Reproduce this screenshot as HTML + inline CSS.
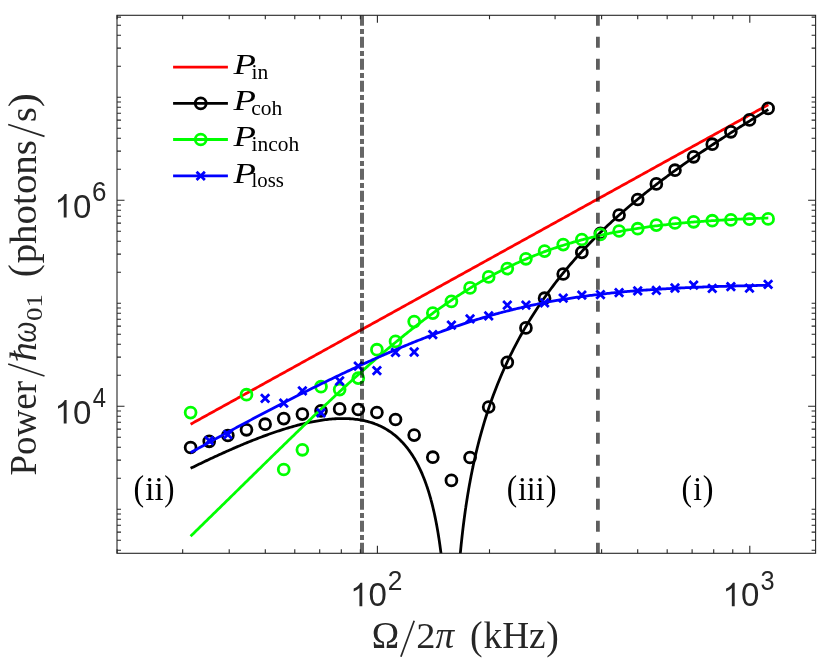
<!DOCTYPE html>
<html><head><meta charset="utf-8"><title>Power vs drive</title>
<style>html,body{margin:0;padding:0;background:#fff;}svg{display:block;will-change:transform;}.s{font-family:"Liberation Sans",sans-serif;fill:#262626;}.r{font-family:"Liberation Serif",serif;fill:#262626;}.k{font-family:"Liberation Serif",serif;fill:#000;}</style></head><body>
<svg width="830" height="660" viewBox="0 0 830 660">
<rect x="0" y="0" width="830" height="660" fill="#fff"/>
<defs><clipPath id="c"><rect x="117.0" y="15.3" width="698.6" height="538.0"/></clipPath></defs>
<g clip-path="url(#c)" fill="none" stroke-linejoin="round">
<path d="M190.60,424.24 L192.05,423.44 L193.50,422.64 L194.94,421.84 L196.39,421.03 L197.84,420.23 L199.29,419.43 L200.74,418.63 L202.18,417.83 L203.63,417.03 L205.08,416.23 L206.53,415.43 L207.97,414.63 L209.42,413.83 L210.87,413.02 L212.32,412.22 L213.77,411.42 L215.21,410.62 L216.66,409.82 L218.11,409.02 L219.56,408.22 L221.01,407.42 L222.45,406.62 L223.90,405.82 L225.35,405.02 L226.80,404.21 L228.24,403.41 L229.69,402.61 L231.14,401.81 L232.59,401.01 L234.04,400.21 L235.48,399.41 L236.93,398.61 L238.38,397.81 L239.83,397.01 L241.28,396.21 L242.72,395.40 L244.17,394.60 L245.62,393.80 L247.07,393.00 L248.51,392.20 L249.96,391.40 L251.41,390.60 L252.86,389.80 L254.31,389.00 L255.75,388.20 L257.20,387.40 L258.65,386.59 L260.10,385.79 L261.55,384.99 L262.99,384.19 L264.44,383.39 L265.89,382.59 L267.34,381.79 L268.78,380.99 L270.23,380.19 L271.68,379.39 L273.13,378.59 L274.58,377.78 L276.02,376.98 L277.47,376.18 L278.92,375.38 L280.37,374.58 L281.82,373.78 L283.26,372.98 L284.71,372.18 L286.16,371.38 L287.61,370.58 L289.06,369.78 L290.50,368.97 L291.95,368.17 L293.40,367.37 L294.85,366.57 L296.29,365.77 L297.74,364.97 L299.19,364.17 L300.64,363.37 L302.09,362.57 L303.53,361.77 L304.98,360.97 L306.43,360.16 L307.88,359.36 L309.33,358.56 L310.77,357.76 L312.22,356.96 L313.67,356.16 L315.12,355.36 L316.56,354.56 L318.01,353.76 L319.46,352.96 L320.91,352.16 L322.36,351.35 L323.80,350.55 L325.25,349.75 L326.70,348.95 L328.15,348.15 L329.60,347.35 L331.04,346.55 L332.49,345.75 L333.94,344.95 L335.39,344.15 L336.83,343.35 L338.28,342.54 L339.73,341.74 L341.18,340.94 L342.63,340.14 L344.07,339.34 L345.52,338.54 L346.97,337.74 L348.42,336.94 L349.87,336.14 L351.31,335.34 L352.76,334.54 L354.21,333.73 L355.66,332.93 L357.11,332.13 L358.55,331.33 L360.00,330.53 L361.45,329.73 L362.90,328.93 L364.34,328.13 L365.79,327.33 L367.24,326.53 L368.69,325.73 L370.14,324.92 L371.58,324.12 L373.03,323.32 L374.48,322.52 L375.93,321.72 L377.38,320.92 L378.82,320.12 L380.27,319.32 L381.72,318.52 L383.17,317.72 L384.61,316.92 L386.06,316.11 L387.51,315.31 L388.96,314.51 L390.41,313.71 L391.85,312.91 L393.30,312.11 L394.75,311.31 L396.20,310.51 L397.65,309.71 L399.09,308.91 L400.54,308.10 L401.99,307.30 L403.44,306.50 L404.88,305.70 L406.33,304.90 L407.78,304.10 L409.23,303.30 L410.68,302.50 L412.12,301.70 L413.57,300.90 L415.02,300.10 L416.47,299.29 L417.92,298.49 L419.36,297.69 L420.81,296.89 L422.26,296.09 L423.71,295.29 L425.15,294.49 L426.60,293.69 L428.05,292.89 L429.50,292.09 L430.95,291.29 L432.39,290.48 L433.84,289.68 L435.29,288.88 L436.74,288.08 L438.19,287.28 L439.63,286.48 L441.08,285.68 L442.53,284.88 L443.98,284.08 L445.43,283.28 L446.87,282.48 L448.32,281.67 L449.77,280.87 L451.22,280.07 L452.66,279.27 L454.11,278.47 L455.56,277.67 L457.01,276.87 L458.46,276.07 L459.90,275.27 L461.35,274.47 L462.80,273.67 L464.25,272.86 L465.70,272.06 L467.14,271.26 L468.59,270.46 L470.04,269.66 L471.49,268.86 L472.93,268.06 L474.38,267.26 L475.83,266.46 L477.28,265.66 L478.73,264.86 L480.17,264.05 L481.62,263.25 L483.07,262.45 L484.52,261.65 L485.97,260.85 L487.41,260.05 L488.86,259.25 L490.31,258.45 L491.76,257.65 L493.20,256.85 L494.65,256.05 L496.10,255.24 L497.55,254.44 L499.00,253.64 L500.44,252.84 L501.89,252.04 L503.34,251.24 L504.79,250.44 L506.24,249.64 L507.68,248.84 L509.13,248.04 L510.58,247.24 L512.03,246.43 L513.47,245.63 L514.92,244.83 L516.37,244.03 L517.82,243.23 L519.27,242.43 L520.71,241.63 L522.16,240.83 L523.61,240.03 L525.06,239.23 L526.51,238.43 L527.95,237.62 L529.40,236.82 L530.85,236.02 L532.30,235.22 L533.75,234.42 L535.19,233.62 L536.64,232.82 L538.09,232.02 L539.54,231.22 L540.98,230.42 L542.43,229.62 L543.88,228.81 L545.33,228.01 L546.78,227.21 L548.22,226.41 L549.67,225.61 L551.12,224.81 L552.57,224.01 L554.02,223.21 L555.46,222.41 L556.91,221.61 L558.36,220.81 L559.81,220.00 L561.25,219.20 L562.70,218.40 L564.15,217.60 L565.60,216.80 L567.05,216.00 L568.49,215.20 L569.94,214.40 L571.39,213.60 L572.84,212.80 L574.29,211.99 L575.73,211.19 L577.18,210.39 L578.63,209.59 L580.08,208.79 L581.52,207.99 L582.97,207.19 L584.42,206.39 L585.87,205.59 L587.32,204.79 L588.76,203.99 L590.21,203.18 L591.66,202.38 L593.11,201.58 L594.56,200.78 L596.00,199.98 L597.45,199.18 L598.90,198.38 L600.35,197.58 L601.79,196.78 L603.24,195.98 L604.69,195.18 L606.14,194.37 L607.59,193.57 L609.03,192.77 L610.48,191.97 L611.93,191.17 L613.38,190.37 L614.83,189.57 L616.27,188.77 L617.72,187.97 L619.17,187.17 L620.62,186.37 L622.07,185.56 L623.51,184.76 L624.96,183.96 L626.41,183.16 L627.86,182.36 L629.30,181.56 L630.75,180.76 L632.20,179.96 L633.65,179.16 L635.10,178.36 L636.54,177.56 L637.99,176.75 L639.44,175.95 L640.89,175.15 L642.34,174.35 L643.78,173.55 L645.23,172.75 L646.68,171.95 L648.13,171.15 L649.57,170.35 L651.02,169.55 L652.47,168.75 L653.92,167.94 L655.37,167.14 L656.81,166.34 L658.26,165.54 L659.71,164.74 L661.16,163.94 L662.61,163.14 L664.05,162.34 L665.50,161.54 L666.95,160.74 L668.40,159.94 L669.84,159.13 L671.29,158.33 L672.74,157.53 L674.19,156.73 L675.64,155.93 L677.08,155.13 L678.53,154.33 L679.98,153.53 L681.43,152.73 L682.88,151.93 L684.32,151.13 L685.77,150.32 L687.22,149.52 L688.67,148.72 L690.12,147.92 L691.56,147.12 L693.01,146.32 L694.46,145.52 L695.91,144.72 L697.35,143.92 L698.80,143.12 L700.25,142.32 L701.70,141.51 L703.15,140.71 L704.59,139.91 L706.04,139.11 L707.49,138.31 L708.94,137.51 L710.39,136.71 L711.83,135.91 L713.28,135.11 L714.73,134.31 L716.18,133.51 L717.62,132.70 L719.07,131.90 L720.52,131.10 L721.97,130.30 L723.42,129.50 L724.86,128.70 L726.31,127.90 L727.76,127.10 L729.21,126.30 L730.66,125.50 L732.10,124.70 L733.55,123.89 L735.00,123.09 L736.45,122.29 L737.89,121.49 L739.34,120.69 L740.79,119.89 L742.24,119.09 L743.69,118.29 L745.13,117.49 L746.58,116.69 L748.03,115.89 L749.48,115.08 L750.93,114.28 L752.37,113.48 L753.82,112.68 L755.27,111.88 L756.72,111.08 L758.16,110.28 L759.61,109.48 L761.06,108.68 L762.51,107.88 L763.96,107.07 L765.40,106.27 L766.85,105.47 L768.30,104.67" stroke="#f00" stroke-width="2.78"/>
<g stroke="#000" stroke-width="2.78">
<circle cx="190.60" cy="447.5" r="5.45"/>
<circle cx="209.23" cy="441.3" r="5.45"/>
<circle cx="227.86" cy="435.5" r="5.45"/>
<circle cx="246.49" cy="429.8" r="5.45"/>
<circle cx="265.12" cy="424.2" r="5.45"/>
<circle cx="283.75" cy="418.6" r="5.45"/>
<circle cx="302.38" cy="414.1" r="5.45"/>
<circle cx="321.01" cy="410.8" r="5.45"/>
<circle cx="339.64" cy="408.9" r="5.45"/>
<circle cx="358.27" cy="409.5" r="5.45"/>
<circle cx="376.90" cy="412.5" r="5.45"/>
<circle cx="395.53" cy="419.5" r="5.45"/>
<circle cx="414.16" cy="435.1" r="5.45"/>
<circle cx="432.79" cy="457.2" r="5.45"/>
<circle cx="451.42" cy="480.4" r="5.45"/>
<circle cx="470.05" cy="457.5" r="5.45"/>
<circle cx="488.68" cy="407" r="5.45"/>
<circle cx="507.31" cy="362.3" r="5.45"/>
<circle cx="525.94" cy="327.9" r="5.45"/>
<circle cx="544.57" cy="298.2" r="5.45"/>
<circle cx="563.20" cy="274" r="5.45"/>
<circle cx="581.83" cy="252.4" r="5.45"/>
<circle cx="600.46" cy="233.3" r="5.45"/>
<circle cx="619.09" cy="215" r="5.45"/>
<circle cx="637.72" cy="199.5" r="5.45"/>
<circle cx="656.35" cy="183.9" r="5.45"/>
<circle cx="674.98" cy="170.2" r="5.45"/>
<circle cx="693.61" cy="156.8" r="5.45"/>
<circle cx="712.24" cy="144.2" r="5.45"/>
<circle cx="730.87" cy="131.8" r="5.45"/>
<circle cx="749.50" cy="119.9" r="5.45"/>
<circle cx="768.13" cy="108.4" r="5.45"/>
<path d="M190.60,468.32 L192.05,467.61 L193.50,466.90 L194.94,466.20 L196.39,465.49 L197.84,464.79 L199.29,464.09 L200.74,463.40 L202.18,462.70 L203.63,462.01 L205.08,461.32 L206.53,460.63 L207.97,459.95 L209.42,459.27 L210.87,458.59 L212.32,457.92 L213.77,457.24 L215.21,456.57 L216.66,455.90 L218.11,455.24 L219.56,454.58 L221.01,453.92 L222.45,453.27 L223.90,452.61 L225.35,451.96 L226.80,451.32 L228.24,450.68 L229.69,450.04 L231.14,449.40 L232.59,448.77 L234.04,448.14 L235.48,447.51 L236.93,446.89 L238.38,446.27 L239.83,445.66 L241.28,445.05 L242.72,444.44 L244.17,443.84 L245.62,443.24 L247.07,442.65 L248.51,442.06 L249.96,441.47 L251.41,440.89 L252.86,440.32 L254.31,439.75 L255.75,439.18 L257.20,438.61 L258.65,438.06 L260.10,437.50 L261.55,436.96 L262.99,436.41 L264.44,435.88 L265.89,435.34 L267.34,434.82 L268.78,434.29 L270.23,433.78 L271.68,433.27 L273.13,432.76 L274.58,432.27 L276.02,431.77 L277.47,431.29 L278.92,430.81 L280.37,430.33 L281.82,429.87 L283.26,429.41 L284.71,428.95 L286.16,428.51 L287.61,428.07 L289.06,427.63 L290.50,427.21 L291.95,426.79 L293.40,426.38 L294.85,425.98 L296.29,425.59 L297.74,425.20 L299.19,424.83 L300.64,424.46 L302.09,424.10 L303.53,423.75 L304.98,423.41 L306.43,423.07 L307.88,422.75 L309.33,422.44 L310.77,422.14 L312.22,421.84 L313.67,421.56 L315.12,421.29 L316.56,421.03 L318.01,420.78 L319.46,420.54 L320.91,420.32 L322.36,420.10 L323.80,419.90 L325.25,419.71 L326.70,419.53 L328.15,419.37 L329.60,419.22 L331.04,419.08 L332.49,418.96 L333.94,418.85 L335.39,418.76 L336.83,418.68 L338.28,418.62 L339.73,418.57 L341.18,418.54 L342.63,418.53 L344.07,418.54 L345.52,418.56 L346.97,418.60 L348.42,418.66 L349.87,418.74 L351.31,418.84 L352.76,418.96 L354.21,419.10 L355.66,419.26 L357.11,419.44 L358.55,419.65 L360.00,419.88 L361.45,420.14 L362.90,420.42 L364.34,420.73 L365.79,421.06 L367.24,421.42 L368.69,421.81 L370.14,422.23 L371.58,422.68 L373.03,423.17 L374.48,423.68 L375.93,424.23 L377.38,424.82 L378.82,425.44 L380.27,426.10 L381.72,426.80 L383.17,427.54 L384.61,428.33 L386.06,429.16 L387.51,430.03 L388.96,430.96 L390.41,431.93 L391.85,432.96 L393.30,434.05 L394.75,435.19 L396.20,436.40 L397.65,437.67 L399.09,439.01 L400.54,440.42 L401.99,441.91 L403.44,443.47 L404.88,445.13 L406.33,446.87 L407.78,448.71 L409.23,450.65 L410.68,452.70 L412.12,454.86 L413.57,457.15 L415.02,459.58 L416.47,462.16 L417.92,464.89 L419.36,467.79 L420.81,470.88 L422.26,474.17 L423.71,477.69 L425.00,481.05 L425.15,481.46 L425.22,481.64 L425.44,482.24 L425.66,482.85 L425.88,483.46 L426.10,484.09 L426.33,484.71 L426.55,485.35 L426.60,485.51 L426.77,485.99 L426.99,486.64 L427.21,487.30 L427.43,487.96 L427.65,488.63 L427.87,489.31 L428.05,489.87 L428.09,490.00 L428.31,490.70 L428.53,491.40 L428.76,492.11 L428.98,492.84 L429.20,493.57 L429.42,494.31 L429.50,494.58 L429.64,495.05 L429.86,495.81 L430.08,496.58 L430.30,497.36 L430.52,498.14 L430.74,498.94 L430.95,499.68 L430.96,499.75 L431.18,500.57 L431.41,501.40 L431.63,502.24 L431.85,503.09 L432.07,503.95 L432.29,504.83 L432.39,505.25 L432.51,505.71 L432.73,506.61 L432.95,507.52 L433.17,508.45 L433.39,509.39 L433.61,510.34 L433.84,511.30 L433.84,511.33 L434.06,512.29 L434.28,513.28 L434.50,514.29 L434.72,515.32 L434.94,516.36 L435.16,517.41 L435.29,518.04 L435.38,518.49 L435.60,519.58 L435.82,520.69 L436.04,521.82 L436.27,522.96 L436.49,524.13 L436.71,525.31 L436.74,525.48 L436.93,526.52 L437.15,527.75 L437.37,528.99 L437.59,530.26 L437.81,531.56 L438.03,532.88 L438.19,533.81 L438.25,534.22 L438.47,535.59 L438.69,536.98 L438.92,538.40 L439.14,539.85 L439.36,541.33 L439.58,542.84 L439.63,543.23 L439.80,544.38 L440.02,545.96 L440.24,547.57 L440.46,549.21 L440.68,550.89 L440.90,552.61 L441.08,554.02 L441.12,554.37 L441.35,556.17 L441.57,558.01 L441.79,559.90 L442.01,561.84 L442.23,563.83 L442.45,565.87 L442.53,566.62 L442.67,567.97 L442.89,570.12 L443.11,572.34 L443.33,574.61 L443.55,576.96 L443.78,579.38 L443.98,581.66 L444.00,581.88 L444.22,584.45 L444.44,587.11 L444.66,589.87 L444.88,592.72 L445.10,595.67 L445.32,598.74 L445.43,600.22 L445.54,601.92 L445.76,605.24 L445.98,608.69 L446.20,612.30 L446.43,613.30 L446.65,613.30 L446.87,613.30 L446.87,613.30 L447.09,613.30 L447.31,613.30 L447.53,613.30 L447.75,613.30 L447.97,613.30 L448.19,613.30 L448.32,613.30 L448.41,613.30 L448.63,613.30 L448.86,613.30 L449.08,613.30 L449.30,613.30 L449.52,613.30 L449.74,613.30 L449.77,613.30 L449.96,613.30 L450.18,613.30 L450.40,613.30 L450.62,613.30 L450.84,613.30 L451.06,613.30 L451.22,613.30 L451.29,613.30 L451.51,613.30 L451.73,613.30 L451.95,613.30 L452.17,613.30 L452.39,613.30 L452.61,613.30 L452.66,613.30 L452.83,613.30 L453.05,613.30 L453.27,613.30 L453.49,613.30 L453.71,613.30 L453.94,613.30 L454.11,613.30 L454.16,613.30 L454.38,613.30 L454.60,613.30 L454.82,613.30 L455.04,613.30 L455.26,613.30 L455.48,613.30 L455.56,613.30 L455.70,613.30 L455.92,613.30 L456.14,612.23 L456.37,608.05 L456.59,604.04 L456.81,600.20 L457.01,596.83 L457.03,596.50 L457.25,592.94 L457.47,589.50 L457.69,586.18 L457.91,582.97 L458.13,579.86 L458.35,576.85 L458.46,575.48 L458.57,573.93 L458.80,571.09 L459.02,568.33 L459.24,565.64 L459.46,563.02 L459.68,560.47 L459.90,557.99 L459.90,557.94 L460.12,555.56 L460.34,553.19 L460.56,550.88 L460.78,548.61 L461.00,546.40 L461.22,544.23 L461.35,543.01 L461.45,542.11 L461.67,540.03 L461.89,537.99 L462.11,535.99 L462.33,534.03 L462.55,532.11 L462.77,530.22 L462.80,529.98 L462.99,528.36 L463.21,526.54 L463.43,524.75 L463.65,522.98 L463.88,521.25 L464.10,519.54 L464.25,518.39 L464.32,517.87 L464.54,516.21 L464.76,514.59 L464.98,512.98 L465.20,511.40 L465.42,509.85 L465.64,508.31 L465.70,507.95 L465.86,506.80 L466.08,505.31 L466.31,503.84 L466.53,502.39 L466.75,500.95 L466.97,499.54 L467.14,498.43 L467.19,498.14 L467.41,496.76 L467.63,495.40 L467.85,494.06 L468.07,492.73 L468.29,491.42 L468.51,490.12 L468.59,489.67 L468.73,488.84 L468.96,487.57 L469.18,486.31 L469.40,485.07 L469.62,483.85 L469.84,482.63 L470.04,481.55 L470.06,481.43 L470.28,480.24 L470.50,479.07 L470.72,477.91 L470.94,476.75 L471.16,475.61 L471.39,474.48 L471.49,473.97 L471.61,473.37 L471.83,472.26 L472.05,471.16 L472.27,470.07 L472.49,469.00 L472.71,467.93 L472.93,466.87 L472.93,466.86 L473.15,465.83 L473.37,464.79 L473.59,463.76 L473.82,462.74 L474.04,461.73 L474.26,460.73 L474.38,460.16 L474.48,459.73 L474.70,458.74 L474.92,457.77 L475.14,456.80 L475.36,455.83 L475.58,454.88 L475.80,453.93 L475.83,453.82 L476.02,452.99 L476.24,452.06 L476.47,451.14 L476.69,450.22 L476.91,449.31 L477.13,448.40 L477.28,447.79 L477.35,447.51 L477.57,446.61 L477.79,445.73 L478.01,444.85 L478.23,443.98 L478.45,443.11 L478.67,442.25 L478.73,442.06 L478.90,441.40 L479.12,440.55 L479.34,439.71 L479.56,438.87 L479.78,438.04 L480.00,437.22 L480.17,436.57 L481.62,431.32 L483.07,426.28 L484.52,421.43 L485.97,416.75 L487.41,412.24 L488.86,407.87 L490.31,403.64 L491.76,399.55 L493.20,395.57 L494.65,391.70 L496.10,387.94 L497.55,384.28 L499.00,380.71 L500.44,377.22 L501.89,373.82 L503.34,370.50 L504.79,367.25 L506.24,364.08 L507.68,360.96 L509.13,357.92 L510.58,354.93 L512.03,352.01 L513.47,349.13 L514.92,346.31 L516.37,343.55 L517.82,340.83 L519.27,338.16 L520.71,335.53 L522.16,332.95 L523.61,330.41 L525.06,327.91 L526.51,325.44 L527.95,323.02 L529.40,320.63 L530.85,318.28 L532.30,315.96 L533.75,313.68 L535.19,311.42 L536.64,309.20 L538.09,307.01 L539.54,304.84 L540.98,302.71 L542.43,300.60 L543.88,298.52 L545.33,296.47 L546.78,294.44 L548.22,292.43 L549.67,290.45 L551.12,288.49 L552.57,286.56 L554.02,284.64 L555.46,282.75 L556.91,280.88 L558.36,279.03 L559.81,277.20 L561.25,275.39 L562.70,273.60 L564.15,271.83 L565.60,270.07 L567.05,268.33 L568.49,266.62 L569.94,264.91 L571.39,263.23 L572.84,261.56 L574.29,259.91 L575.73,258.27 L577.18,256.65 L578.63,255.04 L580.08,253.45 L581.52,251.87 L582.97,250.30 L584.42,248.75 L585.87,247.22 L587.32,245.69 L588.76,244.18 L590.21,242.68 L591.66,241.20 L593.11,239.72 L594.56,238.26 L596.00,236.81 L597.45,235.37 L598.90,233.95 L600.35,232.53 L601.79,231.13 L603.24,229.73 L604.69,228.35 L606.14,226.97 L607.59,225.61 L609.03,224.26 L610.48,222.91 L611.93,221.58 L613.38,220.25 L614.83,218.94 L616.27,217.63 L617.72,216.33 L619.17,215.04 L620.62,213.76 L622.07,212.49 L623.51,211.23 L624.96,209.97 L626.41,208.72 L627.86,207.48 L629.30,206.25 L630.75,205.02 L632.20,203.81 L633.65,202.60 L635.10,201.39 L636.54,200.20 L637.99,199.01 L639.44,197.82 L640.89,196.65 L642.34,195.48 L643.78,194.32 L645.23,193.16 L646.68,192.01 L648.13,190.86 L649.57,189.73 L651.02,188.59 L652.47,187.47 L653.92,186.34 L655.37,185.23 L656.81,184.12 L658.26,183.01 L659.71,181.91 L661.16,180.82 L662.61,179.73 L664.05,178.65 L665.50,177.57 L666.95,176.49 L668.40,175.42 L669.84,174.36 L671.29,173.30 L672.74,172.24 L674.19,171.19 L675.64,170.14 L677.08,169.10 L678.53,168.06 L679.98,167.03 L681.43,166.00 L682.88,164.97 L684.32,163.95 L685.77,162.93 L687.22,161.91 L688.67,160.90 L690.12,159.89 L691.56,158.89 L693.01,157.89 L694.46,156.89 L695.91,155.90 L697.35,154.91 L698.80,153.92 L700.25,152.94 L701.70,151.96 L703.15,150.98 L704.59,150.01 L706.04,149.04 L707.49,148.07 L708.94,147.10 L710.39,146.14 L711.83,145.18 L713.28,144.23 L714.73,143.27 L716.18,142.32 L717.62,141.37 L719.07,140.42 L720.52,139.48 L721.97,138.54 L723.42,137.60 L724.86,136.67 L726.31,135.73 L727.76,134.80 L729.21,133.87 L730.66,132.94 L732.10,132.02 L733.55,131.10 L735.00,130.18 L736.45,129.26 L737.89,128.34 L739.34,127.43 L740.79,126.51 L742.24,125.60 L743.69,124.70 L745.13,123.79 L746.58,122.88 L748.03,121.98 L749.48,121.08 L750.93,120.18 L752.37,119.28 L753.82,118.39 L755.27,117.49 L756.72,116.60 L758.16,115.71 L759.61,114.82 L761.06,113.93 L762.51,113.05 L763.96,112.16 L765.40,111.28 L766.85,110.40 L768.30,109.51"/>
</g>
<g stroke="#0f0" stroke-width="2.78">
<circle cx="190.60" cy="412.6" r="5.45"/>
<circle cx="246.49" cy="394.7" r="5.45"/>
<circle cx="283.75" cy="469.5" r="5.45"/>
<circle cx="302.38" cy="449.8" r="5.45"/>
<circle cx="321.01" cy="386.7" r="5.45"/>
<circle cx="339.64" cy="389.6" r="5.45"/>
<circle cx="358.27" cy="378.1" r="5.45"/>
<circle cx="376.90" cy="349.7" r="5.45"/>
<circle cx="395.53" cy="341.4" r="5.45"/>
<circle cx="414.16" cy="321.6" r="5.45"/>
<circle cx="432.79" cy="313.1" r="5.45"/>
<circle cx="451.42" cy="301.4" r="5.45"/>
<circle cx="470.05" cy="287.9" r="5.45"/>
<circle cx="488.68" cy="276.9" r="5.45"/>
<circle cx="507.31" cy="268.6" r="5.45"/>
<circle cx="525.94" cy="258.8" r="5.45"/>
<circle cx="544.57" cy="251.1" r="5.45"/>
<circle cx="563.20" cy="244.6" r="5.45"/>
<circle cx="581.83" cy="239.5" r="5.45"/>
<circle cx="600.46" cy="234.3" r="5.45"/>
<circle cx="619.09" cy="231" r="5.45"/>
<circle cx="637.72" cy="228.7" r="5.45"/>
<circle cx="656.35" cy="225.1" r="5.45"/>
<circle cx="674.98" cy="223" r="5.45"/>
<circle cx="693.61" cy="221.8" r="5.45"/>
<circle cx="712.24" cy="220.7" r="5.45"/>
<circle cx="730.87" cy="219.9" r="5.45"/>
<circle cx="749.50" cy="219.2" r="5.45"/>
<circle cx="768.13" cy="218.9" r="5.45"/>
<path d="M190.60,536.24 L192.05,534.82 L193.50,533.41 L194.94,531.99 L196.39,530.58 L197.84,529.16 L199.29,527.75 L200.74,526.33 L202.18,524.92 L203.63,523.50 L205.08,522.08 L206.53,520.67 L207.97,519.25 L209.42,517.83 L210.87,516.42 L212.32,515.00 L213.77,513.58 L215.21,512.16 L216.66,510.74 L218.11,509.33 L219.56,507.91 L221.01,506.49 L222.45,505.07 L223.90,503.65 L225.35,502.23 L226.80,500.81 L228.24,499.39 L229.69,497.97 L231.14,496.55 L232.59,495.13 L234.04,493.71 L235.48,492.29 L236.93,490.87 L238.38,489.45 L239.83,488.03 L241.28,486.61 L242.72,485.19 L244.17,483.76 L245.62,482.34 L247.07,480.92 L248.51,479.50 L249.96,478.08 L251.41,476.66 L252.86,475.24 L254.31,473.82 L255.75,472.40 L257.20,470.98 L258.65,469.56 L260.10,468.14 L261.55,466.72 L262.99,465.30 L264.44,463.88 L265.89,462.46 L267.34,461.05 L268.78,459.63 L270.23,458.21 L271.68,456.80 L273.13,455.38 L274.58,453.97 L276.02,452.55 L277.47,451.14 L278.92,449.73 L280.37,448.31 L281.82,446.90 L283.26,445.49 L284.71,444.08 L286.16,442.67 L287.61,441.26 L289.06,439.86 L290.50,438.45 L291.95,437.05 L293.40,435.64 L294.85,434.24 L296.29,432.84 L297.74,431.44 L299.19,430.04 L300.64,428.64 L302.09,427.25 L303.53,425.85 L304.98,424.46 L306.43,423.06 L307.88,421.67 L309.33,420.29 L310.77,418.90 L312.22,417.51 L313.67,416.13 L315.12,414.75 L316.56,413.37 L318.01,411.99 L319.46,410.61 L320.91,409.24 L322.36,407.87 L323.80,406.50 L325.25,405.13 L326.70,403.76 L328.15,402.40 L329.60,401.04 L331.04,399.68 L332.49,398.32 L333.94,396.97 L335.39,395.61 L336.83,394.27 L338.28,392.92 L339.73,391.57 L341.18,390.23 L342.63,388.89 L344.07,387.56 L345.52,386.23 L346.97,384.89 L348.42,383.57 L349.87,382.24 L351.31,380.92 L352.76,379.60 L354.21,378.29 L355.66,376.98 L357.11,375.67 L358.55,374.36 L360.00,373.06 L361.45,371.76 L362.90,370.47 L364.34,369.18 L365.79,367.89 L367.24,366.61 L368.69,365.33 L370.14,364.05 L371.58,362.78 L373.03,361.51 L374.48,360.25 L375.93,358.99 L377.38,357.73 L378.82,356.48 L380.27,355.23 L381.72,353.98 L383.17,352.74 L384.61,351.51 L386.06,350.28 L387.51,349.05 L388.96,347.83 L390.41,346.61 L391.85,345.40 L393.30,344.19 L394.75,342.99 L396.20,341.79 L397.65,340.60 L399.09,339.41 L400.54,338.22 L401.99,337.05 L403.44,335.87 L404.88,334.70 L406.33,333.54 L407.78,332.38 L409.23,331.23 L410.68,330.08 L412.12,328.94 L413.57,327.80 L415.02,326.67 L416.47,325.54 L417.92,324.42 L419.36,323.31 L420.81,322.20 L422.26,321.10 L423.71,320.00 L425.15,318.91 L426.60,317.82 L428.05,316.74 L429.50,315.67 L430.95,314.60 L432.39,313.54 L433.84,312.48 L435.29,311.43 L436.74,310.39 L438.19,309.35 L439.63,308.32 L441.08,307.30 L442.53,306.28 L443.98,305.27 L445.43,304.26 L446.87,303.26 L448.32,302.27 L449.77,301.29 L451.22,300.31 L452.66,299.33 L454.11,298.37 L455.56,297.41 L457.01,296.45 L458.46,295.51 L459.90,294.57 L461.35,293.64 L462.80,292.71 L464.25,291.79 L465.70,290.88 L467.14,289.97 L468.59,289.07 L470.04,288.18 L471.49,287.30 L472.93,286.42 L474.38,285.55 L475.83,284.68 L477.28,283.83 L478.73,282.98 L480.17,282.13 L481.62,281.30 L483.07,280.47 L484.52,279.64 L485.97,278.83 L487.41,278.02 L488.86,277.22 L490.31,276.43 L491.76,275.64 L493.20,274.86 L494.65,274.09 L496.10,273.32 L497.55,272.56 L499.00,271.81 L500.44,271.07 L501.89,270.33 L503.34,269.60 L504.79,268.87 L506.24,268.16 L507.68,267.45 L509.13,266.74 L510.58,266.05 L512.03,265.36 L513.47,264.68 L514.92,264.00 L516.37,263.33 L517.82,262.67 L519.27,262.02 L520.71,261.37 L522.16,260.73 L523.61,260.10 L525.06,259.47 L526.51,258.85 L527.95,258.24 L529.40,257.63 L530.85,257.03 L532.30,256.44 L533.75,255.85 L535.19,255.27 L536.64,254.69 L538.09,254.13 L539.54,253.57 L540.98,253.01 L542.43,252.46 L543.88,251.92 L545.33,251.39 L546.78,250.86 L548.22,250.34 L549.67,249.82 L551.12,249.31 L552.57,248.81 L554.02,248.31 L555.46,247.82 L556.91,247.33 L558.36,246.85 L559.81,246.38 L561.25,245.91 L562.70,245.45 L564.15,244.99 L565.60,244.54 L567.05,244.10 L568.49,243.66 L569.94,243.22 L571.39,242.80 L572.84,242.37 L574.29,241.96 L575.73,241.55 L577.18,241.14 L578.63,240.74 L580.08,240.35 L581.52,239.96 L582.97,239.57 L584.42,239.19 L585.87,238.82 L587.32,238.45 L588.76,238.09 L590.21,237.73 L591.66,237.37 L593.11,237.02 L594.56,236.68 L596.00,236.34 L597.45,236.01 L598.90,235.68 L600.35,235.35 L601.79,235.03 L603.24,234.71 L604.69,234.40 L606.14,234.09 L607.59,233.79 L609.03,233.49 L610.48,233.20 L611.93,232.91 L613.38,232.62 L614.83,232.34 L616.27,232.06 L617.72,231.79 L619.17,231.52 L620.62,231.26 L622.07,231.00 L623.51,230.74 L624.96,230.48 L626.41,230.23 L627.86,229.99 L629.30,229.75 L630.75,229.51 L632.20,229.27 L633.65,229.04 L635.10,228.81 L636.54,228.59 L637.99,228.37 L639.44,228.15 L640.89,227.93 L642.34,227.72 L643.78,227.52 L645.23,227.31 L646.68,227.11 L648.13,226.91 L649.57,226.72 L651.02,226.52 L652.47,226.33 L653.92,226.15 L655.37,225.96 L656.81,225.78 L658.26,225.61 L659.71,225.43 L661.16,225.26 L662.61,225.09 L664.05,224.92 L665.50,224.76 L666.95,224.60 L668.40,224.44 L669.84,224.28 L671.29,224.13 L672.74,223.98 L674.19,223.83 L675.64,223.68 L677.08,223.54 L678.53,223.40 L679.98,223.26 L681.43,223.12 L682.88,222.99 L684.32,222.85 L685.77,222.72 L687.22,222.59 L688.67,222.47 L690.12,222.34 L691.56,222.22 L693.01,222.10 L694.46,221.98 L695.91,221.87 L697.35,221.75 L698.80,221.64 L700.25,221.53 L701.70,221.42 L703.15,221.31 L704.59,221.21 L706.04,221.10 L707.49,221.00 L708.94,220.90 L710.39,220.80 L711.83,220.71 L713.28,220.61 L714.73,220.52 L716.18,220.42 L717.62,220.33 L719.07,220.25 L720.52,220.16 L721.97,220.07 L723.42,219.99 L724.86,219.90 L726.31,219.82 L727.76,219.74 L729.21,219.66 L730.66,219.58 L732.10,219.51 L733.55,219.43 L735.00,219.36 L736.45,219.29 L737.89,219.22 L739.34,219.15 L740.79,219.08 L742.24,219.01 L743.69,218.94 L745.13,218.88 L746.58,218.81 L748.03,218.75 L749.48,218.69 L750.93,218.63 L752.37,218.57 L753.82,218.51 L755.27,218.45 L756.72,218.39 L758.16,218.34 L759.61,218.28 L761.06,218.23 L762.51,218.17 L763.96,218.12 L765.40,218.07 L766.85,218.02 L768.30,217.97"/>
</g>
<g stroke="#00f" stroke-width="2.78">
<path d="M205.08,436.55L213.38,444.85M205.08,444.85L213.38,436.55M223.71,430.45L232.01,438.75M223.71,438.75L232.01,430.45M260.97,394.15L269.27,402.45M260.97,402.45L269.27,394.15M279.60,399.05L287.90,407.35M279.60,407.35L287.90,399.05M298.23,386.65L306.53,394.95M298.23,394.95L306.53,386.65M316.86,408.65L325.16,416.95M316.86,416.95L325.16,408.65M335.49,376.85L343.79,385.15M335.49,385.15L343.79,376.85M354.12,361.95L362.42,370.25M354.12,370.25L362.42,361.95M372.75,366.55L381.05,374.85M372.75,374.85L381.05,366.55M391.38,348.25L399.68,356.55M391.38,356.55L399.68,348.25M410.01,347.85L418.31,356.15M410.01,356.15L418.31,347.85M428.64,330.55L436.94,338.85M428.64,338.85L436.94,330.55M447.27,321.05L455.57,329.35M447.27,329.35L455.57,321.05M465.90,314.75L474.20,323.05M465.90,323.05L474.20,314.75M484.53,311.65L492.83,319.95M484.53,319.95L492.83,311.65M503.16,301.05L511.46,309.35M503.16,309.35L511.46,301.05M521.79,301.05L530.09,309.35M521.79,309.35L530.09,301.05M540.42,298.75L548.72,307.05M540.42,307.05L548.72,298.75M559.05,294.05L567.35,302.35M559.05,302.35L567.35,294.05M577.68,291.05L585.98,299.35M577.68,299.35L585.98,291.05M596.31,290.55L604.61,298.85M596.31,298.85L604.61,290.55M614.94,288.55L623.24,296.85M614.94,296.85L623.24,288.55M633.57,286.65L641.87,294.95M633.57,294.95L641.87,286.65M652.20,286.25L660.50,294.55M652.20,294.55L660.50,286.25M670.83,283.85L679.13,292.15M670.83,292.15L679.13,283.85M689.46,280.95L697.76,289.25M689.46,289.25L697.76,280.95M708.09,284.25L716.39,292.55M708.09,292.55L716.39,284.25M726.72,282.55L735.02,290.85M726.72,290.85L735.02,282.55M745.35,284.05L753.65,292.35M745.35,292.35L753.65,284.05M763.98,280.15L772.28,288.45M763.98,288.45L772.28,280.15"/>
<path d="M190.60,452.63 L192.05,451.83 L193.50,451.03 L194.94,450.23 L196.39,449.43 L197.84,448.63 L199.29,447.83 L200.74,447.03 L202.18,446.24 L203.63,445.44 L205.08,444.65 L206.53,443.85 L207.97,443.06 L209.42,442.26 L210.87,441.47 L212.32,440.68 L213.77,439.89 L215.21,439.10 L216.66,438.31 L218.11,437.52 L219.56,436.74 L221.01,435.95 L222.45,435.16 L223.90,434.38 L225.35,433.59 L226.80,432.81 L228.24,432.03 L229.69,431.24 L231.14,430.46 L232.59,429.68 L234.04,428.90 L235.48,428.12 L236.93,427.35 L238.38,426.57 L239.83,425.79 L241.28,425.02 L242.72,424.24 L244.17,423.47 L245.62,422.70 L247.07,421.93 L248.51,421.16 L249.96,420.39 L251.41,419.62 L252.86,418.85 L254.31,418.08 L255.75,417.32 L257.20,416.55 L258.65,415.79 L260.10,415.03 L261.55,414.26 L262.99,413.50 L264.44,412.74 L265.89,411.98 L267.34,411.23 L268.78,410.47 L270.23,409.71 L271.68,408.96 L273.13,408.21 L274.58,407.45 L276.02,406.70 L277.47,405.95 L278.92,405.20 L280.37,404.46 L281.82,403.71 L283.26,402.96 L284.71,402.22 L286.16,401.48 L287.61,400.74 L289.06,400.00 L290.50,399.26 L291.95,398.52 L293.40,397.78 L294.85,397.05 L296.29,396.31 L297.74,395.58 L299.19,394.85 L300.64,394.12 L302.09,393.39 L303.53,392.66 L304.98,391.94 L306.43,391.21 L307.88,390.49 L309.33,389.77 L310.77,389.05 L312.22,388.33 L313.67,387.61 L315.12,386.90 L316.56,386.18 L318.01,385.47 L319.46,384.76 L320.91,384.05 L322.36,383.34 L323.80,382.64 L325.25,381.93 L326.70,381.23 L328.15,380.53 L329.60,379.83 L331.04,379.13 L332.49,378.43 L333.94,377.73 L335.39,377.04 L336.83,376.35 L338.28,375.66 L339.73,374.97 L341.18,374.28 L342.63,373.60 L344.07,372.91 L345.52,372.23 L346.97,371.55 L348.42,370.87 L349.87,370.19 L351.31,369.52 L352.76,368.85 L354.21,368.17 L355.66,367.50 L357.11,366.84 L358.55,366.17 L360.00,365.51 L361.45,364.84 L362.90,364.18 L364.34,363.52 L365.79,362.87 L367.24,362.21 L368.69,361.56 L370.14,360.91 L371.58,360.26 L373.03,359.61 L374.48,358.96 L375.93,358.32 L377.38,357.68 L378.82,357.04 L380.27,356.40 L381.72,355.76 L383.17,355.13 L384.61,354.50 L386.06,353.87 L387.51,353.24 L388.96,352.61 L390.41,351.99 L391.85,351.37 L393.30,350.75 L394.75,350.13 L396.20,349.52 L397.65,348.91 L399.09,348.30 L400.54,347.69 L401.99,347.08 L403.44,346.48 L404.88,345.88 L406.33,345.28 L407.78,344.69 L409.23,344.09 L410.68,343.50 L412.12,342.91 L413.57,342.33 L415.02,341.74 L416.47,341.16 L417.92,340.58 L419.36,340.01 L420.81,339.43 L422.26,338.86 L423.71,338.29 L425.15,337.73 L426.60,337.17 L428.05,336.61 L429.50,336.05 L430.95,335.50 L432.39,334.95 L433.84,334.40 L435.29,333.85 L436.74,333.31 L438.19,332.77 L439.63,332.24 L441.08,331.70 L442.53,331.17 L443.98,330.65 L445.43,330.12 L446.87,329.60 L448.32,329.09 L449.77,328.57 L451.22,328.06 L452.66,327.55 L454.11,327.05 L455.56,326.55 L457.01,326.05 L458.46,325.56 L459.90,325.07 L461.35,324.58 L462.80,324.09 L464.25,323.61 L465.70,323.14 L467.14,322.66 L468.59,322.19 L470.04,321.73 L471.49,321.27 L472.93,320.81 L474.38,320.35 L475.83,319.90 L477.28,319.45 L478.73,319.01 L480.17,318.56 L481.62,318.13 L483.07,317.69 L484.52,317.26 L485.97,316.84 L487.41,316.42 L488.86,316.00 L490.31,315.58 L491.76,315.17 L493.20,314.76 L494.65,314.36 L496.10,313.96 L497.55,313.56 L499.00,313.17 L500.44,312.78 L501.89,312.40 L503.34,312.01 L504.79,311.64 L506.24,311.26 L507.68,310.89 L509.13,310.53 L510.58,310.16 L512.03,309.80 L513.47,309.45 L514.92,309.10 L516.37,308.75 L517.82,308.40 L519.27,308.06 L520.71,307.73 L522.16,307.39 L523.61,307.06 L525.06,306.74 L526.51,306.41 L527.95,306.09 L529.40,305.78 L530.85,305.47 L532.30,305.16 L533.75,304.85 L535.19,304.55 L536.64,304.25 L538.09,303.96 L539.54,303.67 L540.98,303.38 L542.43,303.10 L543.88,302.82 L545.33,302.54 L546.78,302.26 L548.22,301.99 L549.67,301.73 L551.12,301.46 L552.57,301.20 L554.02,300.94 L555.46,300.69 L556.91,300.44 L558.36,300.19 L559.81,299.94 L561.25,299.70 L562.70,299.46 L564.15,299.23 L565.60,298.99 L567.05,298.76 L568.49,298.54 L569.94,298.31 L571.39,298.09 L572.84,297.87 L574.29,297.66 L575.73,297.45 L577.18,297.24 L578.63,297.03 L580.08,296.83 L581.52,296.62 L582.97,296.43 L584.42,296.23 L585.87,296.04 L587.32,295.85 L588.76,295.66 L590.21,295.47 L591.66,295.29 L593.11,295.11 L594.56,294.93 L596.00,294.76 L597.45,294.59 L598.90,294.42 L600.35,294.25 L601.79,294.08 L603.24,293.92 L604.69,293.76 L606.14,293.60 L607.59,293.44 L609.03,293.29 L610.48,293.14 L611.93,292.99 L613.38,292.84 L614.83,292.70 L616.27,292.55 L617.72,292.41 L619.17,292.27 L620.62,292.14 L622.07,292.00 L623.51,291.87 L624.96,291.74 L626.41,291.61 L627.86,291.48 L629.30,291.36 L630.75,291.23 L632.20,291.11 L633.65,290.99 L635.10,290.88 L636.54,290.76 L637.99,290.65 L639.44,290.53 L640.89,290.42 L642.34,290.31 L643.78,290.21 L645.23,290.10 L646.68,290.00 L648.13,289.89 L649.57,289.79 L651.02,289.69 L652.47,289.60 L653.92,289.50 L655.37,289.41 L656.81,289.31 L658.26,289.22 L659.71,289.13 L661.16,289.04 L662.61,288.96 L664.05,288.87 L665.50,288.79 L666.95,288.70 L668.40,288.62 L669.84,288.54 L671.29,288.46 L672.74,288.38 L674.19,288.31 L675.64,288.23 L677.08,288.16 L678.53,288.08 L679.98,288.01 L681.43,287.94 L682.88,287.87 L684.32,287.80 L685.77,287.73 L687.22,287.67 L688.67,287.60 L690.12,287.54 L691.56,287.47 L693.01,287.41 L694.46,287.35 L695.91,287.29 L697.35,287.23 L698.80,287.17 L700.25,287.12 L701.70,287.06 L703.15,287.01 L704.59,286.95 L706.04,286.90 L707.49,286.85 L708.94,286.79 L710.39,286.74 L711.83,286.69 L713.28,286.64 L714.73,286.59 L716.18,286.55 L717.62,286.50 L719.07,286.45 L720.52,286.41 L721.97,286.37 L723.42,286.32 L724.86,286.28 L726.31,286.24 L727.76,286.19 L729.21,286.15 L730.66,286.11 L732.10,286.07 L733.55,286.04 L735.00,286.00 L736.45,285.96 L737.89,285.92 L739.34,285.89 L740.79,285.85 L742.24,285.82 L743.69,285.78 L745.13,285.75 L746.58,285.71 L748.03,285.68 L749.48,285.65 L750.93,285.62 L752.37,285.59 L753.82,285.56 L755.27,285.53 L756.72,285.50 L758.16,285.47 L759.61,285.44 L761.06,285.41 L762.51,285.38 L763.96,285.36 L765.40,285.33 L766.85,285.30 L768.30,285.28"/>
</g>
<path d="M362,14.8V553.3" stroke="#000" stroke-opacity="0.6" stroke-width="4" stroke-dasharray="11 3.3 4.9 2.8"/>
<path d="M597.9,14.8V553.3" stroke="#000" stroke-opacity="0.63" stroke-width="3.8" stroke-dasharray="11 11"/>
</g>
<path d="M117.10,553.3v-4.0M117.10,15.3v4.0M182.68,553.3v-4.0M182.68,15.3v4.0M229.21,553.3v-4.0M229.21,15.3v4.0M265.30,553.3v-4.0M265.30,15.3v4.0M294.78,553.3v-4.0M294.78,15.3v4.0M319.71,553.3v-4.0M319.71,15.3v4.0M341.31,553.3v-4.0M341.31,15.3v4.0M360.36,553.3v-4.0M360.36,15.3v4.0M377.40,553.3v-7.5M377.40,15.3v7.5M489.50,553.3v-4.0M489.50,15.3v4.0M555.08,553.3v-4.0M555.08,15.3v4.0M601.61,553.3v-4.0M601.61,15.3v4.0M637.70,553.3v-4.0M637.70,15.3v4.0M667.18,553.3v-4.0M667.18,15.3v4.0M692.11,553.3v-4.0M692.11,15.3v4.0M713.71,553.3v-4.0M713.71,15.3v4.0M732.76,553.3v-4.0M732.76,15.3v4.0M749.80,553.3v-7.5M749.80,15.3v7.5M117.0,550.29h4.0M815.6,550.29h-4.0M117.0,540.31h4.0M815.6,540.31h-4.0M117.0,532.15h4.0M815.6,532.15h-4.0M117.0,525.25h4.0M815.6,525.25h-4.0M117.0,519.28h4.0M815.6,519.28h-4.0M117.0,514.01h4.0M815.6,514.01h-4.0M117.0,509.30h4.0M815.6,509.30h-4.0M117.0,478.29h4.0M815.6,478.29h-4.0M117.0,460.16h4.0M815.6,460.16h-4.0M117.0,447.29h4.0M815.6,447.29h-4.0M117.0,437.31h4.0M815.6,437.31h-4.0M117.0,429.15h4.0M815.6,429.15h-4.0M117.0,422.25h4.0M815.6,422.25h-4.0M117.0,416.28h4.0M815.6,416.28h-4.0M117.0,411.01h4.0M815.6,411.01h-4.0M117.0,406.30h7.5M815.6,406.30h-7.5M117.0,375.29h4.0M815.6,375.29h-4.0M117.0,357.16h4.0M815.6,357.16h-4.0M117.0,344.29h4.0M815.6,344.29h-4.0M117.0,334.31h4.0M815.6,334.31h-4.0M117.0,326.15h4.0M815.6,326.15h-4.0M117.0,319.25h4.0M815.6,319.25h-4.0M117.0,313.28h4.0M815.6,313.28h-4.0M117.0,308.01h4.0M815.6,308.01h-4.0M117.0,303.30h4.0M815.6,303.30h-4.0M117.0,272.29h4.0M815.6,272.29h-4.0M117.0,254.16h4.0M815.6,254.16h-4.0M117.0,241.29h4.0M815.6,241.29h-4.0M117.0,231.31h4.0M815.6,231.31h-4.0M117.0,223.15h4.0M815.6,223.15h-4.0M117.0,216.25h4.0M815.6,216.25h-4.0M117.0,210.28h4.0M815.6,210.28h-4.0M117.0,205.01h4.0M815.6,205.01h-4.0M117.0,200.30h7.5M815.6,200.30h-7.5M117.0,169.29h4.0M815.6,169.29h-4.0M117.0,151.16h4.0M815.6,151.16h-4.0M117.0,138.29h4.0M815.6,138.29h-4.0M117.0,128.31h4.0M815.6,128.31h-4.0M117.0,120.15h4.0M815.6,120.15h-4.0M117.0,113.25h4.0M815.6,113.25h-4.0M117.0,107.28h4.0M815.6,107.28h-4.0M117.0,102.01h4.0M815.6,102.01h-4.0M117.0,97.30h4.0M815.6,97.30h-4.0M117.0,66.29h4.0M815.6,66.29h-4.0M117.0,48.16h4.0M815.6,48.16h-4.0M117.0,35.29h4.0M815.6,35.29h-4.0M117.0,25.31h4.0M815.6,25.31h-4.0M117.0,17.15h4.0M815.6,17.15h-4.0" stroke="#262626" stroke-width="1.1" fill="none"/>
<rect x="117.0" y="15.3" width="698.6" height="538.0" fill="none" stroke="#262626" stroke-width="1.1"/>
<path class="s" transform="translate(54.45,217.5) scale(0.01592)" d="M763,0H583V-1147Q518,-1085 412.5,-1023Q307,-961 223,-930V-1104Q374,-1175 487,-1276Q600,-1377 647,-1472H763Z"/>
<text class="s" x="72.91" y="217.5" font-size="33" textLength="18.38" lengthAdjust="spacingAndGlyphs">0</text>
<text class="s" x="91.98" y="201.2" font-size="27.8" textLength="14.46" lengthAdjust="spacingAndGlyphs">6</text>
<path class="s" transform="translate(54.45,423.5) scale(0.01592)" d="M763,0H583V-1147Q518,-1085 412.5,-1023Q307,-961 223,-930V-1104Q374,-1175 487,-1276Q600,-1377 647,-1472H763Z"/>
<text class="s" x="72.91" y="423.5" font-size="33" textLength="18.38" lengthAdjust="spacingAndGlyphs">0</text>
<text class="s" x="92.75" y="407.2" font-size="27.8" textLength="13.24" lengthAdjust="spacingAndGlyphs">4</text>
<path class="s" transform="translate(350.15,606.2) scale(0.01592)" d="M763,0H583V-1147Q518,-1085 412.5,-1023Q307,-961 223,-930V-1104Q374,-1175 487,-1276Q600,-1377 647,-1472H763Z"/>
<text class="s" x="368.61" y="606.2" font-size="33" textLength="18.38" lengthAdjust="spacingAndGlyphs">0</text>
<text class="s" x="387.68" y="589.9000000000001" font-size="27.8" textLength="14.65" lengthAdjust="spacingAndGlyphs">2</text>
<path class="s" transform="translate(722.55,606.2) scale(0.01592)" d="M763,0H583V-1147Q518,-1085 412.5,-1023Q307,-961 223,-930V-1104Q374,-1175 487,-1276Q600,-1377 647,-1472H763Z"/>
<text class="s" x="741.01" y="606.2" font-size="33" textLength="18.38" lengthAdjust="spacingAndGlyphs">0</text>
<text class="s" x="760.44" y="589.9000000000001" font-size="27.8" textLength="14.08" lengthAdjust="spacingAndGlyphs">3</text>
<path d="M173.1,67.2H227.9" stroke="#f00" stroke-width="2.78" fill="none"/>
<text class="k" x="233.5" y="74.10000000000001" font-size="30" font-style="italic" textLength="22.44" lengthAdjust="spacingAndGlyphs">P</text>
<text class="k" x="251.55" y="78.7" font-size="20" textLength="16.78" lengthAdjust="spacingAndGlyphs">in</text>
<path d="M173.1,103.4H227.9" stroke="#000" stroke-width="2.78" fill="none"/>
<circle cx="200.7" cy="103.4" r="5.45" stroke="#000" stroke-width="2.78" fill="none"/>
<text class="k" x="233.5" y="110.30000000000001" font-size="30" font-style="italic" textLength="22.44" lengthAdjust="spacingAndGlyphs">P</text>
<text class="k" x="251.18" y="114.9" font-size="20" textLength="31.1" lengthAdjust="spacingAndGlyphs">coh</text>
<path d="M173.1,139.5H227.9" stroke="#0f0" stroke-width="2.78" fill="none"/>
<circle cx="200.7" cy="139.5" r="5.45" stroke="#0f0" stroke-width="2.78" fill="none"/>
<text class="k" x="233.5" y="146.4" font-size="30" font-style="italic" textLength="22.44" lengthAdjust="spacingAndGlyphs">P</text>
<text class="k" x="251.55" y="151.0" font-size="20" textLength="47.63" lengthAdjust="spacingAndGlyphs">incoh</text>
<path d="M173.1,175.8H227.9" stroke="#00f" stroke-width="2.78" fill="none"/>
<path d="M196.54999999999998,171.65L204.85,179.95000000000002M196.54999999999998,179.95000000000002L204.85,171.65" stroke="#00f" stroke-width="2.78" fill="none"/>
<text class="k" x="233.5" y="182.70000000000002" font-size="30" font-style="italic" textLength="22.44" lengthAdjust="spacingAndGlyphs">P</text>
<text class="k" x="251.58" y="187.3" font-size="20" textLength="32.37" lengthAdjust="spacingAndGlyphs">loss</text>
<text class="k" x="133.5" y="499.8" font-size="36.6" textLength="10.63" lengthAdjust="spacingAndGlyphs">(</text>
<text class="k" x="145.31" y="499.5" font-size="33.4" textLength="18.21" lengthAdjust="spacingAndGlyphs">ii</text>
<text class="k" x="164.31" y="499.8" font-size="36.6" textLength="10.24" lengthAdjust="spacingAndGlyphs">)</text>
<text class="k" x="506.63" y="499.8" font-size="36.6" textLength="10.37" lengthAdjust="spacingAndGlyphs">(</text>
<text class="k" x="517.93" y="499.5" font-size="33.4" textLength="26.68" lengthAdjust="spacingAndGlyphs">iii</text>
<text class="k" x="545.75" y="499.8" font-size="36.6" textLength="10.89" lengthAdjust="spacingAndGlyphs">)</text>
<text class="k" x="681.51" y="499.8" font-size="36.6" textLength="10.5" lengthAdjust="spacingAndGlyphs">(</text>
<text class="k" x="693.14" y="499.5" font-size="33.4" textLength="8.76" lengthAdjust="spacingAndGlyphs">i</text>
<text class="k" x="702.76" y="499.8" font-size="36.6" textLength="10.76" lengthAdjust="spacingAndGlyphs">)</text>
<text class="r" x="371.79" y="647.6" font-size="38.3" textLength="27.42" lengthAdjust="spacingAndGlyphs">Ω</text>
<path d="M400.9,656.8L414.2,620.7" stroke="#262626" stroke-width="1.7" fill="none"/>
<text class="r" x="416.31" y="647.6" font-size="36" textLength="19.21" lengthAdjust="spacingAndGlyphs">2</text>
<text class="r" x="435.6" y="647.6" font-size="38" font-style="italic" textLength="18.65" lengthAdjust="spacingAndGlyphs">π</text>
<text class="r" x="469.94" y="648.6" font-size="40.2" textLength="12.58" lengthAdjust="spacingAndGlyphs">(</text>
<text class="r" x="483.59" y="647.6" font-size="38" textLength="61.94" lengthAdjust="spacingAndGlyphs">kHz</text>
<text class="r" x="546.28" y="648.6" font-size="40.2" textLength="12.58" lengthAdjust="spacingAndGlyphs">)</text>
<g transform="translate(36.4,475) rotate(-90)">
<text class="r" x="-0.57" y="0" font-size="38.3" textLength="94.59" lengthAdjust="spacingAndGlyphs">Power</text>
<path d="M99.0,8.1L111.0,-28.2" stroke="#262626" stroke-width="1.7" fill="none"/>
<text class="r" x="113.6" y="0" font-size="37.5" font-style="italic" textLength="19.41" lengthAdjust="spacingAndGlyphs">h</text>
<path d="M114.6,-19.0L124.4,-22.2" stroke="#262626" stroke-width="1.5" fill="none"/>
<text class="r" x="132.19" y="0" font-size="38" font-style="italic" textLength="21.44" lengthAdjust="spacingAndGlyphs">ω</text>
<text class="r" x="153.98" y="5.8" font-size="23.5" textLength="26.83" lengthAdjust="spacingAndGlyphs">01</text>
<text class="r" x="197.79" y="-0.4" font-size="40" textLength="12.97" lengthAdjust="spacingAndGlyphs">(</text>
<text class="r" x="211.67" y="0" font-size="38" textLength="123.33" lengthAdjust="spacingAndGlyphs">photons</text>
<path d="M338.6,8.1L350.5,-28.2" stroke="#262626" stroke-width="1.7" fill="none"/>
<text class="r" x="352.94" y="0" font-size="38" textLength="14.84" lengthAdjust="spacingAndGlyphs">s</text>
<text class="r" x="367.73" y="-0.4" font-size="40" textLength="14.13" lengthAdjust="spacingAndGlyphs">)</text>
</g>
</svg></body></html>
